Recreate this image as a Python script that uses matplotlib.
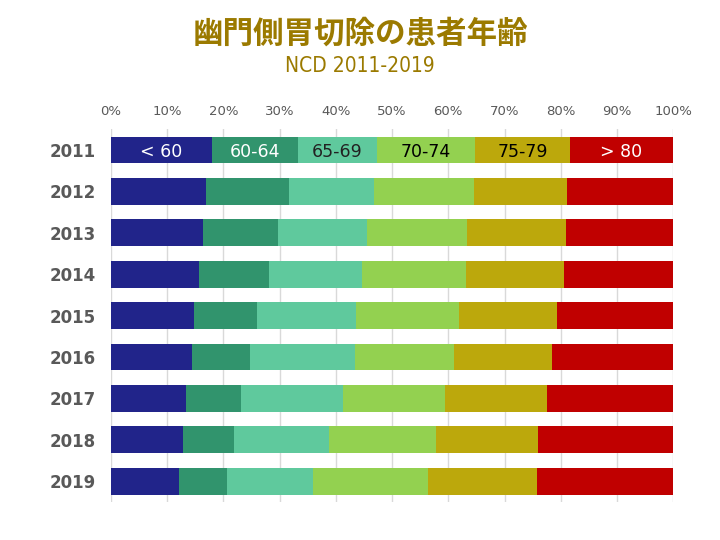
import matplotlib
matplotlib.use('Agg')
import matplotlib.pyplot as plt
import numpy as np

plt.rcParams['font.family'] = ['DejaVu Sans', 'Noto Sans CJK JP']

years = ['2011', '2012', '2013', '2014', '2015', '2016', '2017', '2018', '2019']
groups = ['< 60', '60-64', '65-69', '70-74', '75-79', '> 80']
colors = ['#21248A', '#31946D', '#5FC99D', '#93D150', '#BCA80C', '#C00000']
label_colors = ['white', 'white', '#222222', 'black', 'black', 'white']

lt60 = [18.0, 16.9, 16.3, 15.7, 14.8, 14.4, 13.4, 12.9, 12.1]
a60_64 = [15.2, 14.8, 13.4, 12.5, 11.2, 10.4, 9.7, 9.0, 8.6]
a65_69 = [14.1, 15.1, 15.9, 16.5, 17.6, 18.6, 18.2, 16.9, 15.3]
a70_74 = [17.5, 17.8, 17.8, 18.5, 18.3, 17.7, 18.2, 19.1, 20.4]
a75_79 = [16.8, 16.5, 17.6, 17.3, 17.5, 17.4, 18.0, 18.1, 19.4]
gt80 = [18.4, 18.9, 19.0, 19.5, 20.6, 21.5, 22.5, 24.0, 24.2]

series = [lt60, a60_64, a65_69, a70_74, a75_79, gt80]

fig = plt.figure(figsize=(7.2, 5.4), dpi=100)
ax = fig.add_axes([0.154, 0.0706, 0.781, 0.69])

y = np.arange(len(years))
left = np.zeros(len(years))
for vals, col, name, lc in zip(series, colors, groups, label_colors):
    vals = np.array(vals)
    ax.barh(y, vals, left=left, height=0.65, color=col, zorder=2)
    ax.text(left[0] + vals[0] / 2, y[0] + 0.04, name, ha='center', va='center',
            color=lc, fontsize=12.5, zorder=3)
    left = left + vals

ax.set_xlim(0, 100)
ax.set_ylim(len(years) - 0.5, -0.5)
ax.set_xticks(np.arange(0, 101, 10))
ax.set_xticklabels([f'{v}%' for v in range(0, 101, 10)])
ax.xaxis.tick_top()
ax.tick_params(axis='x', length=0, labelsize=9.5, labelcolor='#595959', pad=8)
ax.set_yticks(y)
ax.set_yticklabels(years)
ax.tick_params(axis='y', length=0, labelsize=12, labelcolor='#595959', pad=11)
for t in ax.get_yticklabels():
    t.set_fontweight('bold')
ax.grid(axis='x', color='#D9D9D9', linewidth=1, zorder=0)
ax.set_axisbelow(True)
for s in ax.spines.values():
    s.set_visible(False)

fig.text(0.5, 0.937, '幽門側胃切除の患者年齢', ha='center', va='center',
         fontsize=22, fontweight='bold', color='#9B7A00',
         family=['Noto Sans CJK JP', 'DejaVu Sans'])
fig.text(0.5, 0.878, 'NCD 2011-2019', ha='center', va='center',
         fontsize=15, color='#9B7A00', fontstretch='condensed')

plt.savefig('out.png', dpi=100)
plt.close()
